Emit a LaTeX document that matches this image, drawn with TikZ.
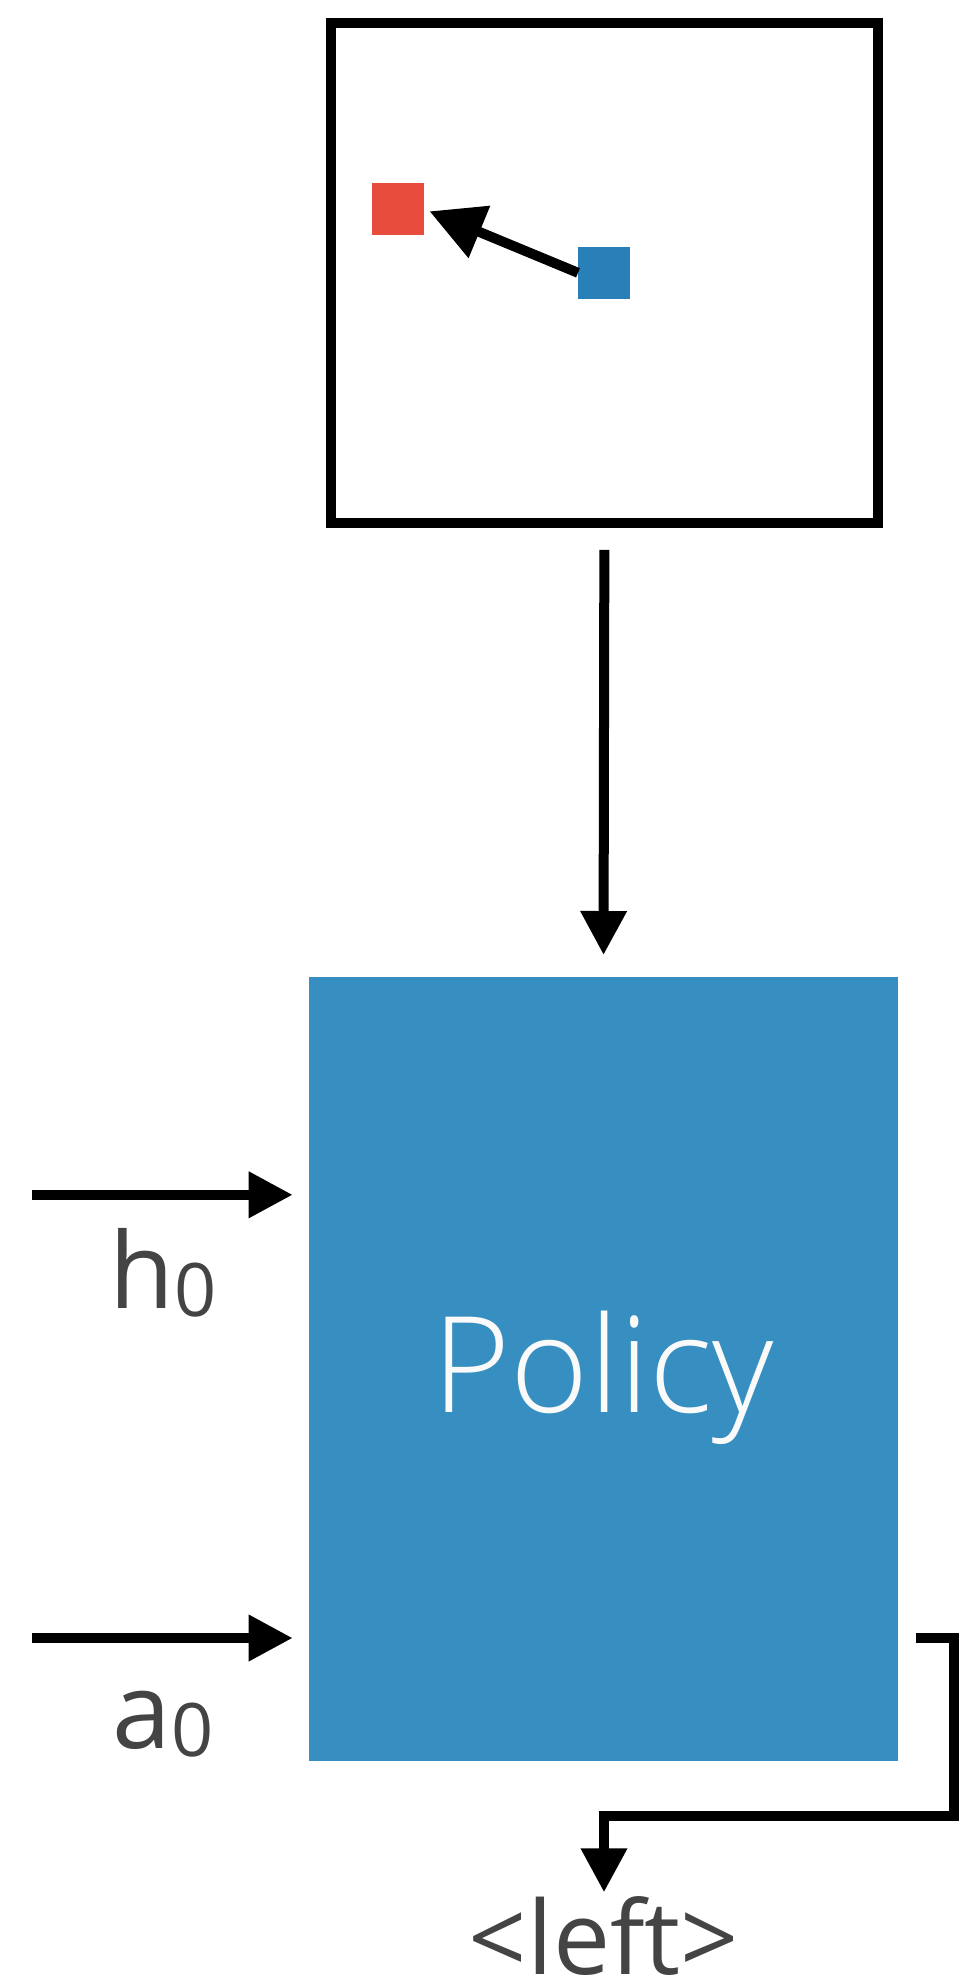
\documentclass[tikz,border=0pt]{standalone}
\usepackage{fontspec}
\setmainfont{Open Sans}
\newfontfamily\lightfont{Open Sans Light}
\usetikzlibrary{arrows.meta}
\usetikzlibrary{positioning}
\definecolor{policyblue}{HTML}{368FC0}
\definecolor{agentblue}{HTML}{2980B9}
\definecolor{goalred}{HTML}{E74C3C}
\definecolor{labelgray}{HTML}{444444}

\tikzset{
  flow/.style={line width=1mm, -{Triangle[length=4.4mm,width=4.4mm]}},
  cell/.style={rectangle, minimum size=5.2mm, inner sep=0pt, outer sep=0pt},
  varlabel/.style={font=\fontsize{30}{30}\selectfont, text=labelgray, inner sep=0pt, anchor=base},
}
\newcommand{\subidx}[1]{\raisebox{-2.3pt}{\fontsize{21}{21}\selectfont #1}}

\begin{document}
\begin{tikzpicture}
            \useasboundingbox (0,0) rectangle (9.59,-19.83);
            % Observation frame with agent and goal
            \node[draw, line width=1mm, rectangle, minimum width=54.76mm, minimum height=49.97mm, outer sep=0pt] (frame) at (6.044,-2.73) {};
            \node[cell, fill=goalred] (goal) at (3.98,-2.09) {};
            \node[cell, fill=agentblue] (agent) at (6.04,-2.728) {};
            \draw[line width=1mm, -{Triangle[length=5.4mm,width=5.4mm]}, shorten >=0.6mm] (agent.west) -- (goal.east);

            % Policy network
            \node[rectangle, fill=policyblue, minimum width=58.96mm, minimum height=78.45mm, outer sep=0pt, text=white!98!black, font=\lightfont\fontsize{38}{38}\selectfont, text height=25pt, text depth=0pt] (policy) at (6.035,-13.6875) {Policy};
            \draw[flow, shorten <=2.7mm, shorten >=2.15mm] (frame.south) -- (policy.north);

            % Inputs
            \coordinate (hin) at (0.317,-11.948);
            \coordinate (ain) at (0.317,-16.38);
            \draw[flow, shorten >=1.6mm] (hin) -- (hin -| policy.west);
            \draw[flow, shorten >=1.6mm] (ain) -- (ain -| policy.west);
            \node[varlabel] (hlabel) at (1.63,-13.08) {h\subidx{0}};
            \node[varlabel] (alabel) at (1.63,-17.48) {a\subidx{0}};

            % Output action
            \coordinate (turn) at (9.54,-18.163);
            \node[varlabel, font=\fontsize{29}{29}\selectfont] (action) at (6.04,-19.74) {<left>};
            \draw[flow, shorten <=1.8mm, shorten >=0.3mm] (ain -| policy.east) -| (turn) -| (action.north);
        \end{tikzpicture}
\end{document}
